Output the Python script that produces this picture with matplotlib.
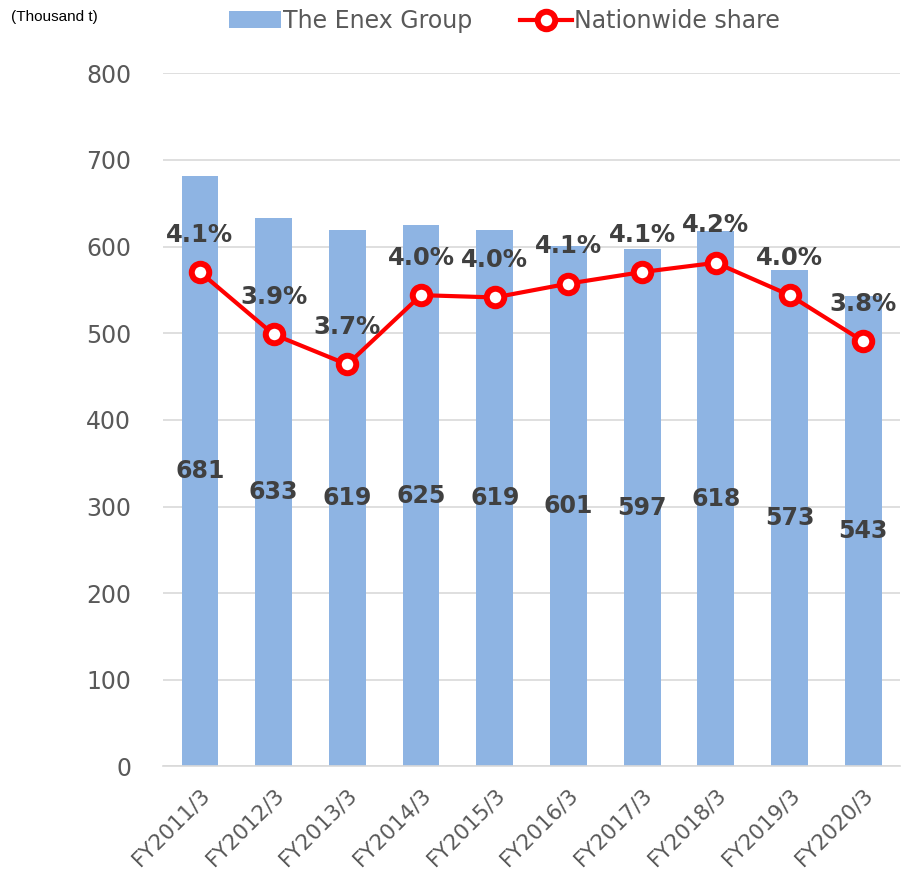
import matplotlib
matplotlib.use("Agg")
import matplotlib.pyplot as plt
import numpy as np

# ── data ─────────────────────────────────────────────────────────────────────
years = ["FY2011/3", "FY2012/3", "FY2013/3", "FY2014/3", "FY2015/3",
         "FY2016/3", "FY2017/3", "FY2018/3", "FY2019/3", "FY2020/3"]
volume = [681, 633, 619, 625, 619, 601, 597, 618, 573, 543]          # thousand t
share = [4.14, 3.87, 3.74, 4.04, 4.03, 4.09, 4.14, 4.18, 4.04, 3.84]  # %

BAR_COLOR = "#8EB4E3"
LINE_COLOR = "#FF0000"
TEXT_GREY = "#595959"
LABEL_GREY = "#404040"

plt.rcParams.update({
    "font.family": "DejaVu Sans",
})

fig = plt.figure(figsize=(9.01, 8.69), dpi=100)
ax = fig.add_axes([0.181, 0.118, 0.818, 0.7976])

x = np.arange(len(years))
bars = ax.bar(x, volume, width=0.5, color=BAR_COLOR, zorder=2,
              label="The Enex Group")
ax.bar_label(bars, labels=[str(v) for v in volume], label_type="center",
             fontsize=17, fontweight="bold", color=LABEL_GREY)

ax.set_xlim(-0.5, len(years) - 0.5)
ax.set_ylim(0, 800)
ax.set_yticks(range(0, 801, 100))
ax.yaxis.grid(True, color="#D9D9D9", linewidth=1.2, zorder=0)
ax.set_axisbelow(True)
ax.tick_params(axis="y", length=0, labelsize=17, labelcolor=TEXT_GREY, pad=23)
ax.tick_params(axis="x", length=0, labelsize=15.5, labelcolor=TEXT_GREY, pad=13)
ax.set_xticks(x)
ax.set_xticklabels(years, rotation=45, ha="right", rotation_mode="anchor")
for s in ["top", "right", "left"]:
    ax.spines[s].set_visible(False)
ax.spines["bottom"].set_color("#D9D9D9")
ax.spines["bottom"].set_linewidth(1.2)

# share on a hidden secondary axis
ax2 = ax.twinx()
ax2.set_ylim(2.0, 5.0)
line, = ax2.plot(x, share, color=LINE_COLOR, linewidth=3, marker="o",
                 markersize=12.6, markeredgewidth=4.3, markerfacecolor="white",
                 markeredgecolor=LINE_COLOR, zorder=3, label="Nationwide share")
for xi, s in zip(x, share):
    ax2.annotate(f"{s:.1f}%", (xi, s), xytext=(0, 27), textcoords="offset points",
                 ha="center", va="center", fontsize=17.5, fontweight="bold",
                 color=LABEL_GREY)
ax2.set_yticks([])
for s in ["top", "right", "left", "bottom"]:
    ax2.spines[s].set_visible(False)

fig.legend(handles=[bars, line], labels=["The Enex Group", "Nationwide share"],
           loc="center", bbox_to_anchor=(0.56, 0.976), ncol=2, frameon=False,
           fontsize=17, labelcolor=TEXT_GREY, handlelength=2.2,
           handletextpad=0.1, columnspacing=2.0)

fig.text(0.012, 0.98, "(Thousand t)", fontsize=11, family="Liberation Sans",
         color="black", va="center", ha="left")

fig.savefig("out.png", dpi=100)
